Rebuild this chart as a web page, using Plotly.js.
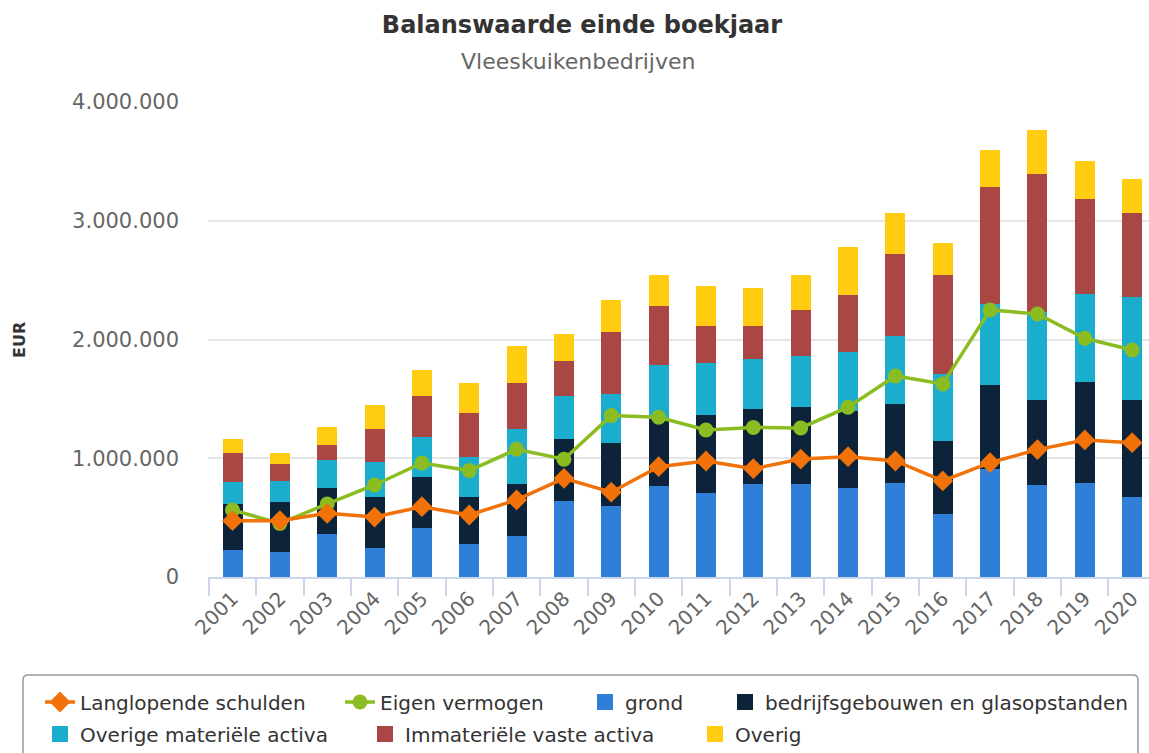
<!DOCTYPE html>
<html>
<head>
<meta charset="utf-8">
<script src="https://cdn.plot.ly/plotly-3.0.1.min.js"></script>
<style>html,body{margin:0;padding:0;background:#fff;}#chart{width:1149px;height:753px;}</style>
</head>
<body>
<div id="chart"></div>
<script>
const years = ["2001","2002","2003","2004","2005","2006","2007","2008","2009","2010","2011","2012","2013","2014","2015","2016","2017","2018","2019","2020"];
const grond = [227000,211000,362000,244000,413000,278000,348000,643000,598000,767000,710000,784000,784000,750000,792000,531000,910000,778000,792000,676000];
const gebouwen = [385000,418000,388000,430000,432000,399000,433000,522000,528000,560000,657000,631000,648000,648000,669000,612000,703000,716000,854000,818000];
const overigeMat = [186000,182000,233000,292000,337000,336000,466000,362000,418000,456000,433000,419000,433000,498000,571000,567000,687000,736000,734000,867000];
const immaterieel = [249000,141000,129000,281000,345000,371000,385000,290000,523000,497000,315000,281000,384000,482000,684000,837000,985000,1167000,805000,706000];
const overig = [118000,95000,152000,199000,217000,248000,314000,230000,267000,264000,337000,320000,298000,402000,351000,267000,315000,369000,320000,286000];
const eigenVermogen = [564000,452000,615000,775000,960000,896000,1076000,992000,1359000,1345000,1238000,1259000,1255000,1430000,1693000,1626000,2249000,2215000,2010000,1912000];
const langlopend = [474000,474000,537000,505000,592000,522000,649000,831000,714000,929000,977000,912000,993000,1013000,977000,809000,963000,1073000,1154000,1131000];

const FONT = "DejaVu Sans, Verdana, sans-serif";
const W = 1149, H = 753, plotLeft = 208, plotTop = 102, plotBottom = 577;
const catPx = 47.35, firstCenter = 232.5;
const px2x = p => (p - plotLeft) / (W - plotLeft);
const px2y = p => (plotBottom - p) / (plotBottom - plotTop);

const barDefs = [
  {name: "grond", y: grond, color: "#2f7ed8", lg: "legend3"},
  {name: "bedrijfsgebouwen en glasopstanden", y: gebouwen, color: "#0d233a", lg: "legend4"},
  {name: "Overige materiële activa", y: overigeMat, color: "#1aadce", lg: "legend5"},
  {name: "Immateriële vaste activa", y: immaterieel, color: "#aa4643", lg: "legend6"},
  {name: "Overig", y: overig, color: "#ffcc0f", lg: "legend7"}
];

const data = [];
barDefs.forEach(d => {
  data.push({type: "bar", name: d.name, x: years, y: d.y, marker: {color: d.color, line: {width: 0}},
             showlegend: false, hoverinfo: "skip"});
  // legend-only entry with a larger square swatch
  data.push({type: "scatter", mode: "markers", name: d.name, x: [null], y: [null],
             marker: {symbol: "square", size: 18, color: d.color}, legend: d.lg, hoverinfo: "skip"});
});
data.push({type: "scatter", mode: "lines+markers", name: "Eigen vermogen", x: years, y: eigenVermogen,
   line: {color: "#8bbc21", width: 3.5}, marker: {symbol: "circle", size: 15, color: "#8bbc21"}, legend: "legend2", hoverinfo: "skip"});
data.push({type: "scatter", mode: "lines+markers", name: "Langlopende schulden", x: years, y: langlopend,
   line: {color: "#f07208", width: 3.5}, marker: {symbol: "diamond", size: 16, color: "#f07208"}, legend: "legend", hoverinfo: "skip"});

function leg(textStart, yc) {
  return {
    orientation: "h",
    xref: "container", x: (textStart - 40) / W, xanchor: "left",
    yref: "container", y: 1 - yc / H, yanchor: "middle",
    bgcolor: "rgba(0,0,0,0)", borderwidth: 0,
    font: {family: FONT, size: 20, color: "#333"},
    itemwidth: 30
  };
}

// rounded legend frame
const bx0 = px2x(23), bx1 = px2x(1138), by0 = px2y(675), by1 = px2y(770);
const rx = 5 / (W - plotLeft), ry = 5 / (plotBottom - plotTop);
const framePath = `M ${bx0},${by1} L ${bx0},${by0 - ry} Q ${bx0},${by0} ${bx0 + rx},${by0} L ${bx1 - rx},${by0} Q ${bx1},${by0} ${bx1},${by0 - ry} L ${bx1},${by1}`;

const layout = {
  width: W, height: H,
  margin: {l: plotLeft, r: 0, t: plotTop, b: H - plotBottom, pad: 0},
  paper_bgcolor: "#fff", plot_bgcolor: "#fff",
  separators: ",.",
  barmode: "stack",
  bargap: 1 - 20 / catPx,
  font: {family: FONT, color: "#333"},
  showlegend: true,
  title: {
    text: "<b>Balanswaarde einde boekjaar</b>",
    font: {family: FONT, size: 24, color: "#333"},
    xref: "container", x: 582 / W, xanchor: "center",
    yref: "container", y: 1 - 25 / H, yanchor: "middle"
  },
  xaxis: {
    type: "category",
    range: [-(firstCenter - plotLeft) / catPx, (W - firstCenter) / catPx],
    showline: true, linecolor: "#ccd6eb", linewidth: 2,
    ticks: "outside", tickson: "boundaries", ticklen: 17, tickwidth: 2, tickcolor: "#ccd6eb",
    tickangle: -45,
    tickfont: {family: FONT, size: 20, color: "#666"},
    showgrid: false, zeroline: false, fixedrange: true
  },
  yaxis: {
    range: [0, 4000000],
    tickvals: [0, 1000000, 2000000, 3000000, 4000000],
    tickformat: ",d",
    tickfont: {family: FONT, size: 21, color: "#666"},
    ticklabelstandoff: 28,
    showgrid: true, gridcolor: "#e6e6e6", gridwidth: 2,
    zeroline: false, showline: false, ticks: "", fixedrange: true
  },
  legend: leg(80, 702),
  legend2: leg(380, 702),
  legend3: leg(625, 702),
  legend4: leg(765, 702),
  legend5: leg(80, 734),
  legend6: leg(405, 734),
  legend7: leg(735, 734),
  shapes: [
    {type: "path", xref: "paper", yref: "paper", path: framePath,
     line: {color: "#999", width: 1.5}, fillcolor: "rgba(0,0,0,0)", layer: "above"}
  ],
  annotations: [
    {text: "Vleeskuikenbedrijven", xref: "paper", yref: "paper",
     x: px2x(578), y: px2y(62),
     xanchor: "center", yanchor: "middle", showarrow: false,
     font: {family: FONT, size: 22, color: "#666"}},
    {text: "<b>EUR</b>", xref: "paper", yref: "paper", textangle: -90,
     x: px2x(19), y: px2y(340),
     xanchor: "center", yanchor: "middle", showarrow: false,
     font: {family: FONT, size: 16, color: "#333"}}
  ],
  hovermode: false
};

Plotly.newPlot("chart", data, layout, {displayModeBar: false, staticPlot: true});
</script>
</body>
</html>
